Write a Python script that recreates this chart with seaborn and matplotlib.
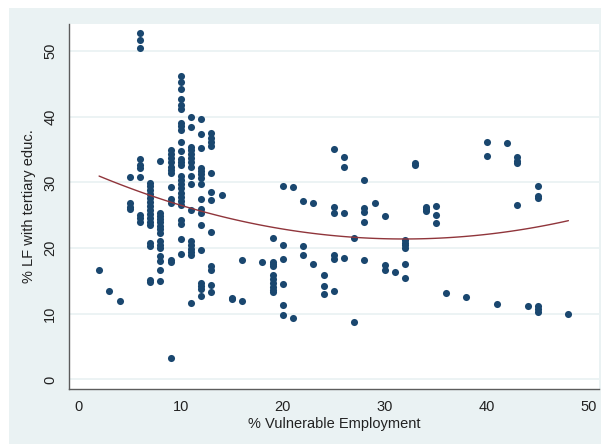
import numpy as np
import pandas as pd
import matplotlib
matplotlib.use("Agg")
import matplotlib.pyplot as plt
import seaborn as sns
from matplotlib.patches import Rectangle

# x positions (% vulnerable employment) and the y values stacked at each one
x_cols = [2, 3, 4, 5, 6, 7, 8, 9, 10, 11, 12, 13, 14, 15, 16, 18, 19, 20, 21,
          22, 23, 24, 25, 26, 27, 28, 29, 30, 31, 32, 33, 34, 35, 36, 38, 40,
          41, 42, 43, 44, 45, 48]
y_by_col = [
    [16.6],
    [13.4],
    [11.9],
    [30.8, 26.8, 26.3, 25.9],
    [52.7, 51.6, 50.5, 33.6, 32.6, 32.2, 30.8, 25.1, 24.5, 24.0],
    [29.9, 29.4, 28.8, 28.2, 27.6, 27.0, 26.4, 25.8, 25.2, 24.6, 24.0, 23.5,
     20.7, 20.3, 15.2, 14.9],
    [33.3, 25.4, 24.9, 24.4, 23.9, 23.4, 22.9, 22.3, 21.0, 20.5, 20.0, 18.8,
     18.1, 16.6, 15.0],
    [34.9, 34.3, 33.7, 33.1, 32.4, 31.8, 31.4, 29.3, 27.4, 26.8, 18.2, 17.8, 3.3],
    [46.2, 45.3, 44.2, 42.7, 41.7, 41.1, 39.0, 38.5, 37.9, 36.1, 34.8, 33.5,
     33.1, 32.7, 31.0, 30.4, 29.7, 29.1, 28.4, 27.8, 27.2, 26.6, 24.3, 23.6,
     21.4, 19.1],
    [39.9, 38.4, 35.4, 34.9, 34.3, 33.7, 33.1, 32.4, 30.9, 29.7, 25.8, 21.0,
     20.4, 19.9, 19.4, 18.9, 11.7],
    [39.7, 37.4, 35.2, 32.2, 31.7, 31.2, 30.6, 29.7, 27.4, 26.0, 25.4, 23.5,
     19.7, 14.7, 14.2, 13.7, 12.7],
    [37.5, 36.8, 36.2, 35.6, 31.4, 28.6, 27.3, 22.5, 17.2, 16.7, 14.4, 13.3],
    [28.1],
    [12.4, 12.2],
    [18.2, 11.9],
    [17.9],
    [21.6, 17.9, 17.5, 17.2, 15.9, 15.3, 14.7, 14.0, 13.6, 13.3],
    [29.5, 20.4, 18.3, 14.5, 11.4, 9.8],
    [29.3, 9.4],
    [27.2, 20.3, 19.0],
    [26.8, 17.5],
    [15.9, 14.2, 13.0],
    [35.1, 26.3, 25.4, 18.9, 18.3, 13.4],
    [33.9, 32.4, 25.4, 18.5],
    [21.6, 8.7],
    [30.3, 26.1, 25.5, 24.0, 18.2],
    [26.8],
    [24.9, 17.4, 16.7],
    [16.4],
    [21.2, 20.8, 20.4, 20.0, 17.6, 15.5],
    [32.9, 32.6],
    [26.3, 25.9, 25.6],
    [26.4, 25.1, 23.8],
    [13.1],
    [12.5],
    [36.1, 34.0],
    [11.5],
    [36.0],
    [33.8, 33.3, 32.9, 26.5],
    [11.2],
    [29.4, 27.9, 27.6, 11.1, 10.7, 10.3],
    [9.9],
]

x_ticks = [0, 10, 20, 30, 40, 50]
y_ticks = [0, 10, 20, 30, 40, 50]

rows = [(x, y) for x, ys in zip(x_cols, y_by_col) for y in ys]
df = pd.DataFrame(rows, columns=["vuln", "tert"])

navy = "#1A476F"
maroon = "#90353B"
region = "#EAF2F3"

sns.set_style("white")
plt.rcParams["font.family"] = ["Liberation Sans", "DejaVu Sans"]

fig = plt.figure(figsize=(6.03, 4.44), dpi=100)
fig.patch.set_facecolor("white")
fig.add_artist(Rectangle((9 / 603, 0), 592 / 603, 436 / 444,
                         transform=fig.transFigure, facecolor=region,
                         edgecolor="none", zorder=-10))

W, H = 603, 444
ax = fig.add_axes([69 / W, 1 - 389 / H, (599 - 69) / W, (389 - 24) / H])
ax.set_facecolor("white")

sns.scatterplot(data=df, x="vuln", y="tert", ax=ax, color=navy, s=26,
                linewidth=0, zorder=3)
sns.regplot(data=df, x="vuln", y="tert", ax=ax, order=2, ci=None,
            scatter=False, color=maroon, line_kws={"lw": 1.0, "zorder": 4})

ax.set_xlim(-0.95, 51.0)
ax.set_ylim(-1.46, 54.1)
ax.set_xticks(x_ticks)
ax.set_yticks(y_ticks)
ax.set_yticklabels([str(t) for t in y_ticks], rotation=90, va="center")

ax.yaxis.grid(True, color=region, lw=1.3, zorder=0)
ax.xaxis.grid(False)
ax.set_axisbelow(True)

for side in ["top", "right"]:
    ax.spines[side].set_visible(False)
for side in ["left", "bottom"]:
    ax.spines[side].set_color("#5c5c5c")
    ax.spines[side].set_linewidth(1.0)

ax.tick_params(axis="both", direction="out", length=4.5, width=0.9,
               color="#5c5c5c", labelsize=10.5, labelcolor="#222222")
ax.tick_params(axis="x", pad=3.5)
ax.tick_params(axis="y", pad=4)

ax.set_xlabel("% Vulnerable Employment", fontsize=10.5, color="#222222",
              labelpad=2)
ax.set_ylabel("% LF with tertiary educ.", fontsize=10.5, color="#222222",
              labelpad=5)

fig.savefig("out.png", dpi=100)
